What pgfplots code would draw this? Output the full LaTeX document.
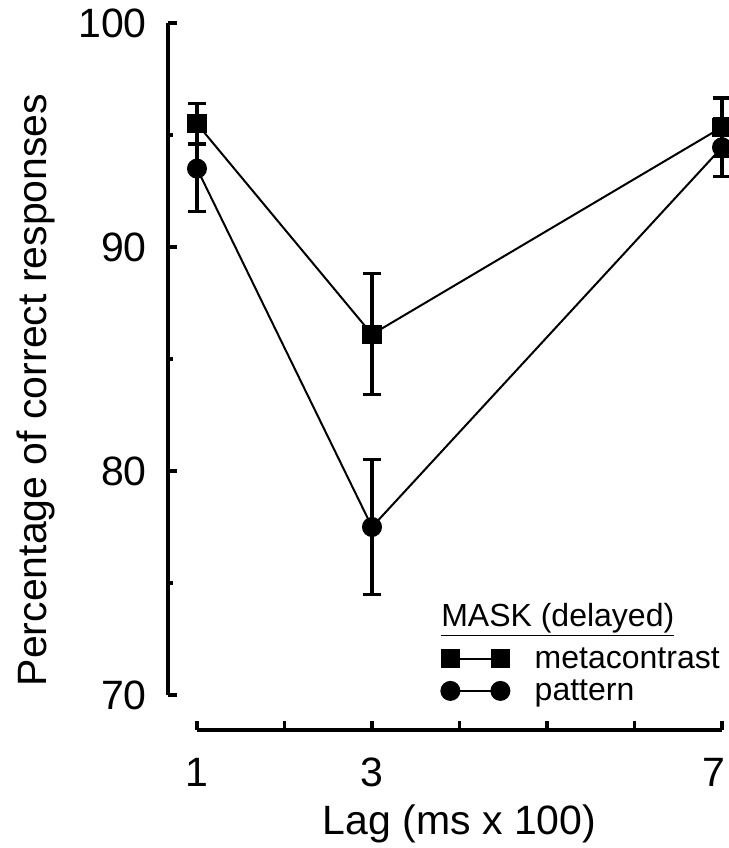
\documentclass[border=0pt]{standalone}
\usepackage{fontspec}
\setmainfont{Liberation Sans}
\usepackage{pgfplots}
\usepackage{pgfplotstable}
\pgfplotsset{compat=1.18}

% lag, percent correct, error
\pgfplotstableread{
x   y     e
1   95.5  0.9
3   86.1  2.7
7   95.35 1.3
}\tblmeta
\pgfplotstableread{
x   y     e
1   93.5  1.9
3   77.5  3.0
7   94.45 1.3
}\tblpat

\begin{document}
\begin{tikzpicture}
\begin{axis}[
  scale only axis,
  width=393.75pt, height=504pt,
  xmin=1, xmax=7, ymin=70, ymax=100,
  clip=false,
  axis x line*=bottom, axis y line*=left,
  axis x line shift=26.25pt, axis y line shift=21.75pt,
  axis line style={line width=2.4pt, -},
  xtick={1,2,3,4,5,6,7}, xticklabels={1,,3,,,,},
  extra x ticks={7}, extra x tick labels={7},
  extra x tick style={xticklabel style={xshift=-6pt}},
  ytick={70,80,90,100}, minor ytick={75,85,95},
  tick align=inside,
  major tick length=7pt, minor tick length=3.5pt,
  every tick/.style={black, line width=2.4pt},
  /pgf/number format/assume math mode=true,
  tick label style={font=\fontsize{30.75}{36}\selectfont},
  yticklabel style={inner sep=0pt, xshift=-15.75pt},
  xticklabel style={inner sep=0pt, yshift=-21pt},
  label style={font=\fontsize{30.75}{36}\selectfont},
  xlabel={Lag (ms x 100)},
  xlabel style={at={(rel axis cs:0.5,-0.2083)}, anchor=base},
  ylabel={Percentage of correct responses},
  ylabel style={at={(rel axis cs:-0.3067,0.454)}, anchor=center},
  legend style={draw=none, fill=none, inner sep=0pt,
    at={(rel axis cs:0.465,0.075)}, anchor=north west,
    font=\fontsize{24}{28}\selectfont,
    row sep=3pt,
    /tikz/every odd column/.append style={column sep=17pt}},
  legend cell align=left,
  legend image code/.code={\draw[#1] plot coordinates {(0pt,0pt) (37.5pt,0pt)};},
  error bars/error bar style={line width=2.4pt},
  error bars/error mark options={rotate=90, mark size=7pt, line width=2.4pt},
]
\addplot[black, line width=1.5pt, mark=square*, mark size=6.4pt,
  error bars/.cd, y dir=both, y explicit]
  table[x=x, y=y, y error=e] {\tblmeta};
\addlegendentry{metacontrast}
\addplot[black, line width=1.5pt, mark=*, mark size=6.75pt,
  error bars/.cd, y dir=both, y explicit]
  table[x=x, y=y, y error=e] {\tblpat};
\addlegendentry{pattern}
\node[anchor=base west, font=\fontsize{24}{28}\selectfont, inner sep=0pt]
  at (rel axis cs:0.4648,0.1012) {\underline{MASK (delayed)}};
\coordinate (bbll) at (rel axis cs:-0.37524,-0.22768);
\coordinate (bbur) at (rel axis cs:1.01143,1.03423);
\end{axis}
\pgfresetboundingbox
\path[use as bounding box] (bbll) rectangle (bbur);
\end{tikzpicture}
\end{document}
